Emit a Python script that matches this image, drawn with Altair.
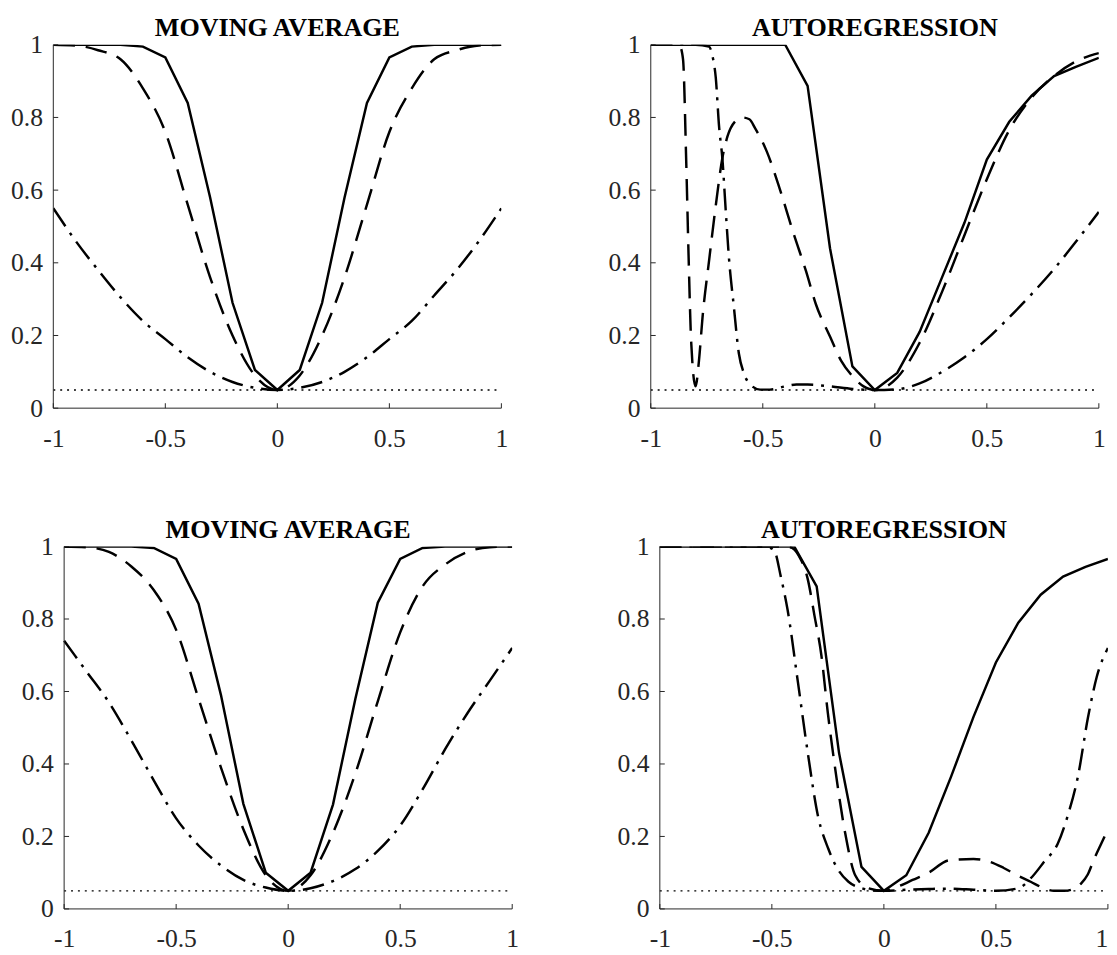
import altair as alt
import pandas as pd

# ---------------- data ----------------
X_GRID = [-1.0, -0.9, -0.8, -0.7, -0.6, -0.5, -0.4, -0.3, -0.2, -0.1, 0.0,
          0.1, 0.2, 0.3, 0.4, 0.5, 0.6, 0.7, 0.8, 0.9, 1.0]

# Moving average, top
ma1_solid = [1, 1, 1, 1, 0.995, 0.965, 0.84, 0.58, 0.29, 0.105, 0.05,
             0.105, 0.29, 0.58, 0.84, 0.965, 0.995, 1, 1, 1, 1]
ma1_dash = [1, 0.998, 0.985, 0.96, 0.88, 0.76, 0.56, 0.36, 0.2, 0.09, 0.05,
            0.09, 0.2, 0.36, 0.56, 0.76, 0.88, 0.96, 0.985, 0.998, 1]
ma1_dashdot = [0.55, 0.46, 0.38, 0.305, 0.24, 0.19, 0.14, 0.10, 0.072, 0.056, 0.05,
               0.056, 0.072, 0.10, 0.14, 0.19, 0.24, 0.31, 0.38, 0.46, 0.55]

# Moving average, bottom
ma2_solid = [1, 1, 1, 1, 0.996, 0.966, 0.842, 0.59, 0.29, 0.10, 0.05,
             0.10, 0.288, 0.58, 0.845, 0.966, 0.996, 1, 1, 1, 1]
ma2_dash = [1, 0.998, 0.985, 0.945, 0.88, 0.77, 0.58, 0.39, 0.22, 0.093, 0.05,
            0.093, 0.21, 0.374, 0.573, 0.763, 0.89, 0.95, 0.985, 0.998, 1]
ma2_dashdot = [0.74, 0.655, 0.57, 0.465, 0.355, 0.25, 0.175, 0.12, 0.08, 0.059, 0.05,
               0.057, 0.077, 0.11, 0.16, 0.23, 0.33, 0.44, 0.54, 0.63, 0.72]

# Autoregression, top
ar1_solid = [1, 1, 1, 1, 1, 1, 1, 0.887, 0.44, 0.115, 0.05,
             0.097, 0.21, 0.36, 0.51, 0.684, 0.788, 0.86, 0.914, 0.94, 0.964]
ar1_dash_x = [-1, -0.9, -0.87, -0.856, -0.842, -0.831, -0.82, -0.80, -0.785, -0.769,
              -0.739, -0.71, -0.68, -0.658, -0.622, -0.592, -0.56, -0.534, -0.482,
              -0.424, -0.365, -0.307, -0.263, -0.2, -0.15, -0.1, -0.05, 0,
              0.1, 0.2, 0.3, 0.4, 0.5, 0.6, 0.7, 0.8, 0.9, 1]
ar1_dash_y = [1, 1, 0.995, 0.96, 0.684, 0.413, 0.187, 0.06, 0.13, 0.25,
              0.41, 0.557, 0.69, 0.747, 0.79, 0.80, 0.795, 0.77, 0.706,
              0.603, 0.485, 0.377, 0.286, 0.197, 0.13, 0.088, 0.06, 0.05,
              0.084, 0.18, 0.32, 0.476, 0.63, 0.765, 0.855, 0.914, 0.955, 0.977]
ar1_dd_x = [-1, -0.9, -0.8, -0.74, -0.725, -0.71, -0.695, -0.68, -0.666, -0.651,
            -0.629, -0.607, -0.585, -0.556, -0.512, -0.468, -0.4, -0.35, -0.3,
            -0.2, -0.1, 0, 0.1, 0.2, 0.3, 0.4, 0.5, 0.6, 0.7, 0.8, 0.9, 1]
ar1_dd_y = [1, 1, 1, 0.995, 0.97, 0.91, 0.774, 0.684, 0.549, 0.413,
            0.278, 0.151, 0.097, 0.065, 0.051, 0.051, 0.06, 0.065, 0.065,
            0.06, 0.053, 0.05, 0.052, 0.068, 0.1, 0.14, 0.19, 0.25, 0.314, 0.383, 0.46, 0.54]

# Autoregression, bottom
ar2_solid = [1, 1, 1, 1, 1, 1, 1, 0.89, 0.43, 0.116, 0.05,
             0.093, 0.21, 0.365, 0.53, 0.68, 0.79, 0.867, 0.917, 0.944, 0.966]
ar2_dash_x = [-1, -0.5, -0.42, -0.38, -0.339, -0.31, -0.279, -0.25, -0.218, -0.173,
              -0.128, -0.068, 0, 0.064, 0.128, 0.2, 0.29, 0.4, 0.474, 0.535, 0.595,
              0.655, 0.715, 0.76, 0.806, 0.845, 0.88, 0.91, 0.94, 0.97, 1]
ar2_dash_y = [1, 1, 0.998, 0.975, 0.908, 0.81, 0.70, 0.54, 0.39, 0.21,
              0.093, 0.057, 0.05, 0.062, 0.08, 0.10, 0.134, 0.138, 0.13, 0.113, 0.093,
              0.075, 0.057, 0.05, 0.05, 0.055, 0.07, 0.095, 0.14, 0.18, 0.22]
ar2_dd_x = [-1, -0.6, -0.52, -0.49, -0.46, -0.43, -0.384, -0.339, -0.294, -0.248,
            -0.203, -0.158, -0.098, -0.05, 0, 0.1, 0.2, 0.3, 0.4, 0.5, 0.6, 0.655,
            0.715, 0.776, 0.82, 0.866, 0.911, 0.95, 1]
ar2_dd_y = [1, 1, 0.998, 0.99, 0.917, 0.826, 0.627, 0.428, 0.256, 0.166,
            0.107, 0.075, 0.057, 0.051, 0.05, 0.053, 0.055, 0.056, 0.053, 0.05, 0.057, 0.084,
            0.13, 0.18, 0.256, 0.365, 0.528, 0.64, 0.72]

LEVEL_X = [-1, 1]
LEVEL_Y = [0.05, 0.05]
X_TICKS = [-1, -0.5, 0, 0.5, 1]
Y_TICKS = [0, 0.2, 0.4, 0.6, 0.8, 1]
X_MIN, X_MAX, Y_MIN, Y_MAX = -1, 1, 0, 1

# ---------------- styling ----------------
PPU = 227.5          # pixels per x unit
INK = "#262626"
FONT = "Liberation Serif"
LBL = 26


def panel(title, solid, dash_xy, dd_xy, off_left, width, height, lab_pad, min_ext, flush):
    lo = X_MIN - off_left / PPU
    xscale = alt.Scale(domain=[lo, X_MAX], nice=False, zero=False)
    yscale = alt.Scale(domain=[Y_MIN, Y_MAX], nice=False, zero=False)
    xaxis = alt.Axis(values=X_TICKS, labelExpr="'' + datum.value", ticks=False, grid=False,
                     domain=False, title=None, labelPadding=17.5, labelFlush=flush,
                     labelFont=FONT, labelFontSize=LBL, labelColor=INK)
    yaxis = alt.Axis(values=Y_TICKS, labelExpr="'' + datum.value", ticks=False, grid=False,
                     domain=False, title=None, labelPadding=lab_pad, minExtent=min_ext,
                     labelFlush=False, labelFont=FONT, labelFontSize=LBL, labelColor=INK)
    X = lambda f: alt.X(f, scale=xscale, axis=xaxis)
    Y = lambda f: alt.Y(f, scale=yscale, axis=yaxis)

    def line(xs, ys, dash, w, interp):
        kw = dict(color="black", strokeWidth=w, interpolate=interp, clip=True)
        if dash:
            kw["strokeDash"] = dash
        return alt.Chart(pd.DataFrame({"x": xs, "y": ys})).mark_line(**kw).encode(
            x=X("x:Q"), y=Y("y:Q"))

    layers = [
        line(LEVEL_X, LEVEL_Y, [2, 5], 1.3, "linear"),
        line(dd_xy[0], dd_xy[1], [22, 8, 3, 8], 2.5, "monotone"),
        line(dash_xy[0], dash_xy[1], [22, 11], 2.5, "monotone"),
        line(X_GRID, solid, None, 2.5, "linear"),
    ]
    # axis lines
    layers.append(alt.Chart(pd.DataFrame({"x": [X_MIN], "y": [Y_MIN], "y2": [Y_MAX]}))
                  .mark_rule(color=INK, strokeWidth=1)
                  .encode(x=X("x:Q"), y=Y("y:Q"), y2="y2:Q"))
    layers.append(alt.Chart(pd.DataFrame({"x": [X_MIN], "x2": [X_MAX], "y": [Y_MIN]}))
                  .mark_rule(color=INK, strokeWidth=1)
                  .encode(x=X("x:Q"), x2="x2:Q", y=Y("y:Q")))
    # inward ticks
    layers.append(alt.Chart(pd.DataFrame({"t": X_TICKS})).mark_rule(color=INK, strokeWidth=1)
                  .encode(x=X("t:Q"), y=alt.value(height), y2=alt.value(height - 5)))
    layers.append(alt.Chart(pd.DataFrame({"t": Y_TICKS})).mark_rule(color=INK, strokeWidth=1)
                  .encode(y=Y("t:Q"), x=alt.value(off_left), x2=alt.value(off_left + 5)))
    return alt.layer(*layers).properties(
        width=width, height=height,
        title=alt.TitleParams(title, font=FONT, fontSize=26.5, fontWeight="bold",
                              color="black", anchor="middle", frame="group",
                              offset=-10, dx=off_left / 2),
    )


tl = panel("MOVING AVERAGE", ma1_solid, (X_GRID, ma1_dash), (X_GRID, ma1_dashdot),
           0, 455, 369, 11, 45.3, False)
tr = panel("AUTOREGRESSION", ar1_solid, (ar1_dash_x, ar1_dash_y), (ar1_dd_x, ar1_dd_y),
           0, 455, 369, 11, 45.3, False)
bl = panel("MOVING AVERAGE", ma2_solid, (X_GRID, ma2_dash), (X_GRID, ma2_dashdot),
           11, 466, 368, 0, 0, False)
br = panel("AUTOREGRESSION", ar2_solid, (ar2_dash_x, ar2_dash_y), (ar2_dd_x, ar2_dd_y),
           10.2, 465.2, 368, 0.8, 0, 5)

chart = alt.vconcat(
    alt.hconcat(tl, tr, spacing=98.7),
    alt.hconcat(bl, br, spacing=98.7),
    spacing=66.5,
    padding=0,
).configure_view(strokeWidth=0)

chart.save("out.html", embed_options={"renderer": "svg", "actions": False})
